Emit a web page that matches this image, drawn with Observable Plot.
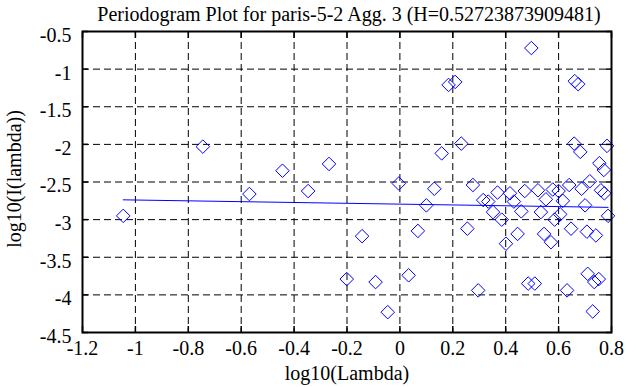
<!DOCTYPE html>
<html><head><meta charset="utf-8">
<script src="https://cdn.jsdelivr.net/npm/d3@7"></script>
<script src="https://cdn.jsdelivr.net/npm/@observablehq/plot@0.6"></script>
<style>body{margin:0;background:#fff;} svg text{font-family:'Liberation Serif','Times New Roman',serif;}</style>
</head><body><div id="chart"></div>
<script>
const titleText = "Periodogram Plot for paris-5-2 Agg. 3 (H=0.52723873909481)";
const xLabel = "log10(Lambda)";
const yLabel = "log10(I(lambda))";
const xTicks = [-1.2, -1, -0.8, -0.6, -0.4, -0.2, 0, 0.2, 0.4, 0.6, 0.8];
const xTickLabels = ["-1.2", "-1", "-0.8", "-0.6", "-0.4", "-0.2", "0", "0.2", "0.4", "0.6", "0.8"];
const yTicks = [-4.5, -4, -3.5, -3, -2.5, -2, -1.5, -1, -0.5];
const yTickLabels = ["-4.5", "-4", "-3.5", "-3", "-2.5", "-2", "-1.5", "-1", "-0.5"];

const logLambda = [
  -1.046, -0.745, -0.569, -0.444, -0.347, -0.268, -0.201, -0.143, -0.092, -0.046,
  -0.004, 0.033, 0.068, 0.100, 0.130, 0.158, 0.184, 0.209, 0.232, 0.255,
  0.276, 0.296, 0.315, 0.334, 0.352, 0.369, 0.385, 0.401, 0.416, 0.431,
  0.445, 0.459, 0.472, 0.485, 0.497, 0.510, 0.522, 0.533, 0.545, 0.552,
  0.571, 0.578, 0.585, 0.600, 0.606, 0.616, 0.632, 0.640, 0.647,
  0.659, 0.661, 0.674, 0.682, 0.687, 0.700, 0.707, 0.710, 0.718, 0.729,
  0.735, 0.741, 0.752, 0.754, 0.760, 0.771, 0.773, 0.783, 0.787
];
const logPeriodogram = [
  -2.95, -2.03, -2.66, -2.35, -2.62, -2.26, -3.79, -3.22, -3.83, -4.23,
  -2.52, -3.74, -3.15, -2.81, -2.59, -2.12, -1.21, -1.17, -1.99, -3.12,
  -2.54, -3.94, -2.74, -2.76, -2.90, -2.64, -3.00, -3.32, -2.65, -2.76,
  -3.19, -2.89, -2.62, -3.85, -0.72, -3.85, -2.61, -2.90, -3.19, -2.73,
  -3.30, -2.60, -3.00, -2.62, -2.93, -2.75, -3.94, -2.54, -3.12,
  -1.99, -1.16, -1.20, -2.10, -2.59, -2.81, -3.16, -3.72, -2.49, -4.22,
  -3.83, -3.21, -3.79, -2.25, -2.61, -2.34, -2.65, -2.02, -2.95
];
const fitLogLambda = [-1.046, 0.787];
const fitLogPeriodogram = [-2.737, -2.837];

const points = logLambda.map((x, i) => ({x, y: logPeriodogram[i]}));
const fit = fitLogLambda.map((x, i) => ({x, y: fitLogPeriodogram[i]}));

const serif = "'Liberation Serif', 'Times New Roman', serif";
const grid = {stroke: "#000", strokeOpacity: 1, strokeWidth: 1, strokeDasharray: "7,4"};
const tickOpts = {stroke: "#000", strokeOpacity: 1, strokeWidth: 1.5, tickSize: 6, tickFormat: () => "", label: null};

const chart = Plot.plot({
  width: 642, height: 387,
  marginLeft: 82, marginRight: 31, marginTop: 31, marginBottom: 55,
  x: {domain: [-1.2, 0.8], label: null},
  y: {domain: [-4.5, -0.5], label: null},
  style: {fontFamily: serif, fontSize: "20px", background: "#fff", color: "#000"},
  marks: [
    Plot.gridX(xTicks, grid),
    Plot.gridY(yTicks, grid),
    Plot.line(fit, {x: "x", y: "y", stroke: "#0000ff", strokeWidth: 1}),
    Plot.dot(points, {x: "x", y: "y", symbol: "diamond2", r: 6.1, stroke: "#0000ff", strokeWidth: 1, fill: "none"}),
    Plot.axisX(xTicks, {...tickOpts, anchor: "bottom", dy: -6}),
    Plot.axisX(xTicks, {...tickOpts, anchor: "top", dy: 6}),
    Plot.axisY(yTicks, {...tickOpts, anchor: "left", dx: 6}),
    Plot.axisY(yTicks, {...tickOpts, anchor: "right", dx: -6}),
    Plot.axisX(xTicks, {anchor: "bottom", tickSize: 0, tickPadding: 8, label: null, fill: "#000",
      fontFamily: serif, fontSize: 20, fontVariant: "normal",
      tickFormat: d => xTickLabels[xTicks.indexOf(d)]}),
    Plot.axisY(yTicks, {anchor: "left", tickSize: 0, tickPadding: 11, dy: 4, label: null, fill: "#000",
      fontFamily: serif, fontSize: 20, fontVariant: "normal",
      tickFormat: d => yTickLabels[yTicks.indexOf(d)]}),
    Plot.frame({stroke: "#000", strokeWidth: 2}),
    Plot.text([titleText], {frameAnchor: "top", dy: -17.4, dx: 2, text: d => d, fontFamily: serif, fontSize: 20, lineAnchor: "middle", textAnchor: "middle", fill: "#000"}),
    Plot.text([xLabel], {frameAnchor: "bottom", dy: 41, text: d => d, fontFamily: serif, fontSize: 20, lineAnchor: "middle", textAnchor: "middle", fill: "#000"}),
    Plot.text([yLabel], {frameAnchor: "left", dx: -68, dy: -3, rotate: -90, text: d => d, fontFamily: serif, fontSize: 20, lineAnchor: "middle", textAnchor: "middle", fill: "#000"})
  ]
});
document.getElementById("chart").appendChild(chart);
</script>
</body></html>
